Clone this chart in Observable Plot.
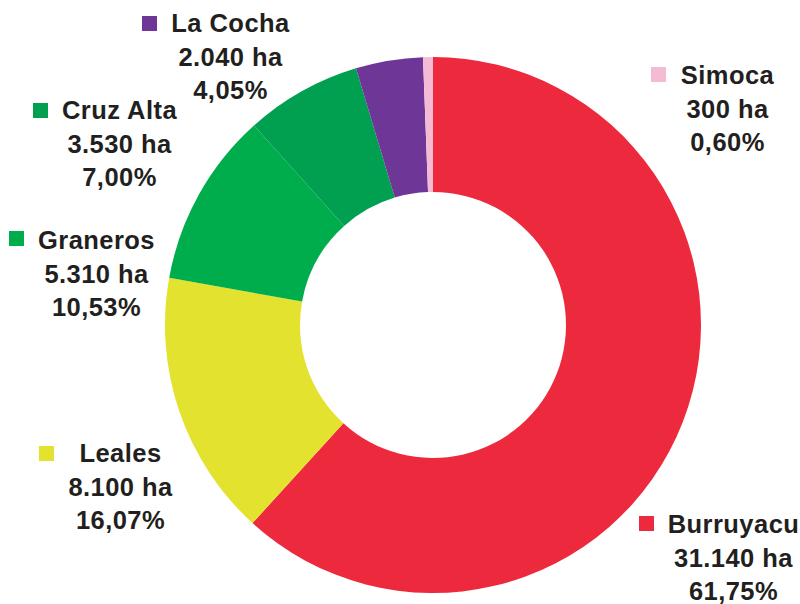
<!DOCTYPE html>
<html>
<head>
<meta charset="utf-8">
<script src="https://cdn.jsdelivr.net/npm/d3@7"></script>
<script src="https://cdn.jsdelivr.net/npm/@observablehq/plot@0.6"></script>
<style>
  html, body { margin: 0; padding: 0; background: #fff; }
  #chart svg { display: block; }
  #chart svg text { letter-spacing: 0.45px; }
</style>
</head>
<body>
<div id="chart"></div>
<script>
// ---- data ----
const departments = ["Burruyacu", "Leales", "Graneros", "Cruz Alta", "La Cocha", "Simoca"];
const hectares    = [31140, 8100, 5310, 3530, 2040, 300];
const percentages = ["61,75%", "16,07%", "10,53%", "7,00%", "4,05%", "0,60%"];
const colors      = ["#ED2A3D", "#E3E22E", "#00AD4D", "#00A050", "#6E3797", "#F6BBD4"];

// ---- layout (label anchors, pixels) ----
const labelPos  = [[733, 534], [120, 463], [96, 250], [119, 120], [230, 33], [727, 85]];
const squarePos = [[639, 516], [39, 446], [9, 231], [33, 103], [142, 16], [651, 67]];
const W = 800, H = 604;
const cx = 433, cy = 325, rOuter = 268, rInner = 133;
const fontSize = 25.5, lineGap = 33.5, sq = 15;

const loc = d3.formatLocale({decimal: ",", thousands: ".", grouping: [3], currency: ["", ""]});
const fmt = loc.format(",d");

const rows = departments.map((name, i) => ({
  name,
  ha: hectares[i],
  pct: percentages[i],
  lx: labelPos[i][0],
  ly: labelPos[i][1],
  sx: squarePos[i][0],
  sy: squarePos[i][1]
}));

const lines = [];
rows.forEach(r => {
  [r.name, `${fmt(r.ha)} ha`, r.pct].forEach((t, k) => {
    lines.push({text: t, x: r.lx, y: r.ly + k * lineGap});
  });
});

function donut(index, scales) {
  const arcs = d3.pie().sort(null).value(d => d.ha)(rows);
  const arc = d3.arc().innerRadius(rInner).outerRadius(rOuter);
  const g = d3.create("svg:g")
    .attr("transform", `translate(${scales.x(cx)},${scales.y(cy)})`);
  g.selectAll("path").data(arcs).join("path")
    .attr("d", arc)
    .attr("fill", d => scales.color(d.data.name));
  return g.node();
}

const chart = Plot.plot({
  width: W,
  height: H,
  margin: 0,
  x: {domain: [0, W], range: [0, W], axis: null},
  y: {domain: [0, H], range: [0, H], axis: null},
  color: {domain: departments, range: colors},
  style: {fontFamily: "'Liberation Sans', Arial, Helvetica, sans-serif", background: "#fff"},
  marks: [
    donut,
    Plot.rect(rows, {
      x1: "sx", x2: d => d.sx + sq,
      y1: "sy", y2: d => d.sy + sq,
      fill: "name"
    }),
    Plot.text(lines, {
      x: "x",
      y: d => d.y - 0.36 * fontSize,
      text: "text",
      fontSize,
      fontWeight: "bold",
      fill: "#231F20",
      textAnchor: "middle",
      lineAnchor: "middle"
    })
  ]
});

document.getElementById("chart").append(chart);
</script>
</body>
</html>
